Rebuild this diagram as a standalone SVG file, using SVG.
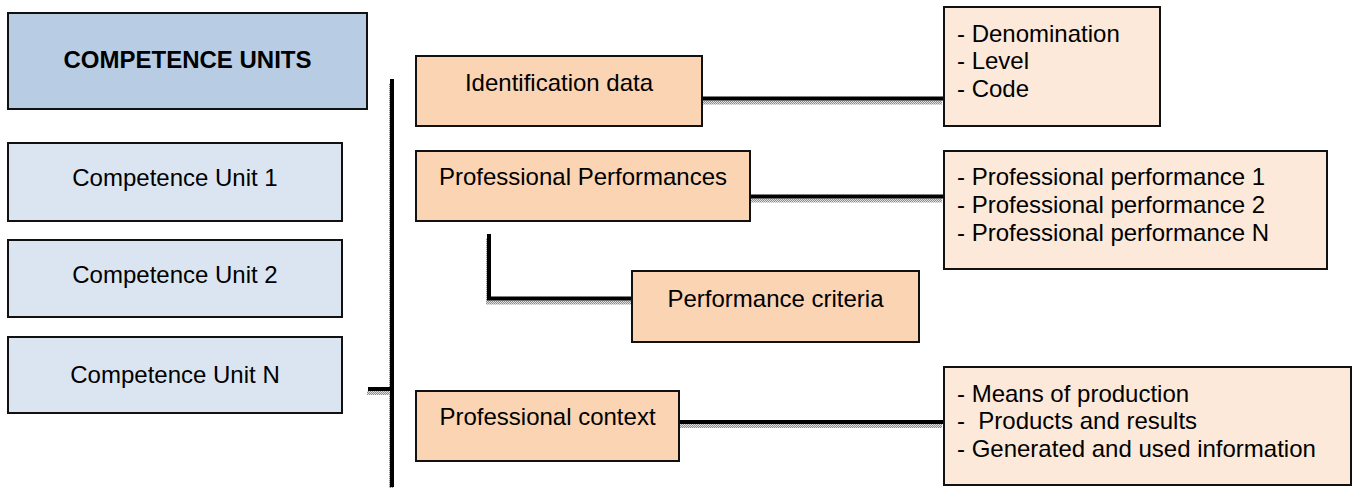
<svg xmlns="http://www.w3.org/2000/svg" width="1353" height="488" viewBox="0 0 1353 488">
<style>
.box{stroke:#111;stroke-width:2}
.hdr{fill:#b8cce4}
.cu{fill:#dbe5f1}
.lbl{fill:#fbd4b4}
.lst{fill:#fde9d9}
text{font-family:"Liberation Sans",Arial,sans-serif;font-size:24px;fill:#000}
.c{text-anchor:middle}
.b{font-weight:bold}
.ln{fill:none;stroke:#000;stroke-width:4}
.sh{fill:none;stroke:url(#dots);stroke-width:4}
</style>
<defs>
<pattern id="dots" width="2" height="2" patternUnits="userSpaceOnUse">
<rect width="2" height="2" fill="#e0e0e0"/>
<rect width="1" height="1" fill="#8c8c8c"/>
<rect x="1" y="1" width="1" height="1" fill="#8c8c8c"/>
</pattern>
</defs>
<rect width="1353" height="488" fill="#fff"/>
<g id="connectors">
<g transform="translate(-1,4)">
<path class="sh" d="M392,79 V484"/>
<path class="sh" d="M368,389 H392"/>
<path class="sh" d="M703,98.5 H943"/>
<path class="sh" d="M751,196.5 H943"/>
<path class="sh" d="M489,234 V298.5 H632"/>
<path class="sh" d="M680,422 H943"/>
</g>
<path class="ln" d="M392,79 V487"/>
<path class="ln" d="M368,389 H392"/>
<path class="ln" d="M703,98.5 H943"/>
<path class="ln" d="M751,196.5 H943"/>
<path class="ln" d="M489,234 V298.5 H632"/>
<path class="ln" d="M680,422 H943"/>
</g>
<g id="competence-units">
<rect class="box hdr" x="8" y="13" width="359" height="96"/>
<text class="c b" x="187.5" y="68">COMPETENCE UNITS</text>
</g>
<g id="cu1">
<rect class="box cu" x="8" y="143" width="334" height="78"/>
<text class="c" x="175" y="186">Competence Unit 1</text>
</g>
<g id="cu2">
<rect class="box cu" x="8" y="240" width="334" height="77"/>
<text class="c" x="175" y="282.5">Competence Unit 2</text>
</g>
<g id="cun">
<rect class="box cu" x="8" y="337" width="334" height="76"/>
<text class="c" x="175" y="382.5">Competence Unit N</text>
</g>
<g id="identification-data">
<rect class="box lbl" x="416" y="56" width="286" height="70"/>
<text class="c" x="559" y="91">Identification data</text>
</g>
<g id="professional-performances">
<rect class="box lbl" x="416" y="151" width="334" height="70"/>
<text class="c" x="583" y="185">Professional Performances</text>
</g>
<g id="performance-criteria">
<rect class="box lbl" x="632" y="271" width="287" height="71"/>
<text class="c" x="775.5" y="306.5">Performance criteria</text>
</g>
<g id="professional-context">
<rect class="box lbl" x="416" y="391" width="263" height="70"/>
<text class="c" x="547.5" y="425">Professional context</text>
</g>
<g id="identification-list">
<rect class="box lst" x="944" y="7" width="216" height="119"/>
<text x="957" y="41.7">- Denomination</text>
<text x="957" y="69.3">- Level</text>
<text x="957" y="97">- Code</text>
</g>
<g id="performances-list">
<rect class="box lst" x="944" y="151" width="383" height="118"/>
<text x="957" y="185">- Professional performance 1</text>
<text x="957" y="213">- Professional performance 2</text>
<text x="957" y="240.7">- Professional performance N</text>
</g>
<g id="context-list">
<rect class="box lst" x="944" y="367" width="407" height="118"/>
<text x="957" y="402">- Means of production</text>
<text x="957" y="429" xml:space="preserve">-  Products and results</text>
<text x="957" y="457">- Generated and used information</text>
</g>
</svg>
